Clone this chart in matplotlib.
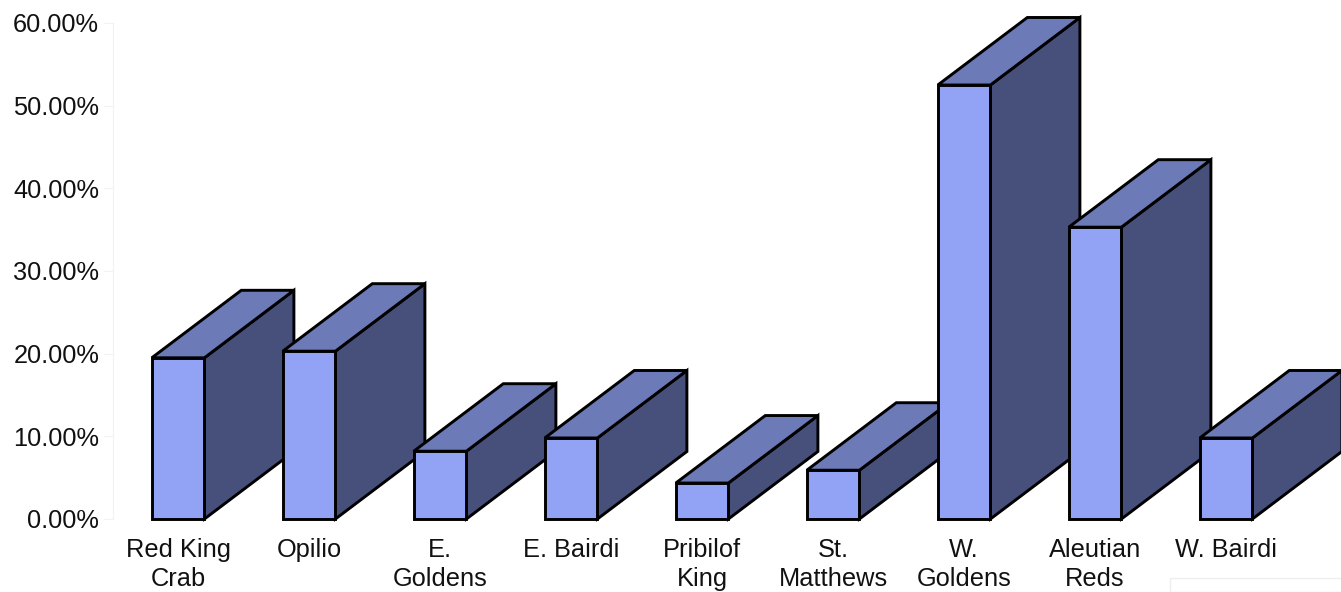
import matplotlib
matplotlib.use('Agg')
import matplotlib.pyplot as plt
from matplotlib.patches import Polygon, Rectangle

plt.rcParams['font.family'] = ['Liberation Sans', 'DejaVu Sans']

categories = ['Red King\nCrab', 'Opilio', 'E.\nGoldens', 'E. Bairdi', 'Pribilof\nKing',
              'St.\nMatthews', 'W.\nGoldens', 'Aleutian\nReds', 'W. Bairdi']
shares = [19.5, 20.3, 8.2, 9.8, 4.35, 5.9, 52.5, 35.3, 9.8]
yticks = [0, 10, 20, 30, 40, 50, 60]

W, H = 1341, 592
FRONT = '#92A3F6'
TOP = '#6C7AB8'
SIDE = '#474F7B'
EDGE = '#000000'

fig = plt.figure(figsize=(W / 100, H / 100), dpi=100)
ax = fig.add_axes([112.6 / W, 1 - 519 / H, 1179 / W, 496 / H])
ax.set_xlim(-0.5, 8.5)
ax.set_ylim(0, 60)

# extrusion of the boxes, in category and percent units
depth_x = 89.5 / 131
depth_y = 67.5 / (496 / 60)
half = 52.6 / 131 / 2

for i, val in enumerate(shares):
    x0, x1 = i - half, i + half
    side = [(x1, 0), (x1 + depth_x, depth_y), (x1 + depth_x, val + depth_y), (x1, val)]
    top = [(x0, val), (x0 + depth_x, val + depth_y), (x1 + depth_x, val + depth_y), (x1, val)]
    z = 3 + i * 3
    style = dict(edgecolor=EDGE, lw=2.1, joinstyle='miter', clip_on=False)
    ax.add_patch(Polygon(side, closed=True, facecolor=SIDE, zorder=z, **style))
    ax.add_patch(Polygon(top, closed=True, facecolor=TOP, zorder=z + 1, **style))
    ax.bar(i, val, width=2 * half, color=FRONT, edgecolor=EDGE, linewidth=2.1,
           joinstyle='miter', zorder=z + 2, clip_on=False)

for name in ['top', 'right', 'bottom']:
    ax.spines[name].set_visible(False)
ax.spines['left'].set_color('#f2f2f2')
ax.spines['left'].set_linewidth(0.8)

ax.set_yticks(yticks)
ax.set_yticklabels(['%.2f%%' % t for t in yticks], fontsize=18.3, color='#111111')
ax.tick_params(axis='y', length=6.5, width=0.8, color='#f2f2f2', pad=3.2)
ax.set_xticks(range(len(categories)))
ax.set_xticklabels(categories, fontsize=18.3, color='#111111', linespacing=1.25)
ax.tick_params(axis='x', length=0, pad=13.6)
for lab in ax.get_xticklabels():
    lab.set_verticalalignment('top')

# corner of the panel that sits over the lower right of the chart
fig.add_artist(Rectangle((1170 / W, 0), 175 / W, 14.5 / H, transform=fig.transFigure,
                         facecolor='white', edgecolor='#eeeeee', lw=1.0, zorder=50))

fig.savefig('out.png', dpi=100)
